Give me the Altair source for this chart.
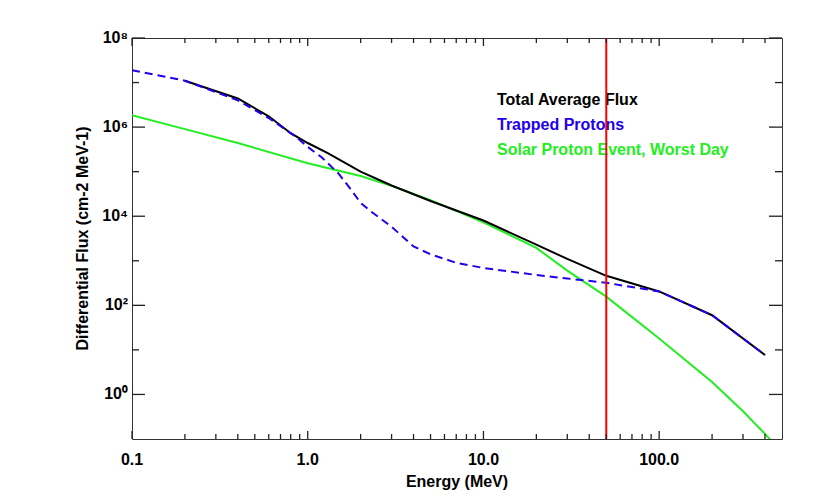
import math
import altair as alt
import pandas as pd

# ---- data ----
energy_total = [0.2, 0.4, 0.6, 0.8, 1.0, 1.3, 2.0, 3.0, 5.0, 10.0, 20.0, 30.0, 50.0, 100.0, 200.0, 400.0]
flux_total = [1.1e7, 4.4e6, 1.75e6, 7.3e5, 4.4e5, 2.6e5, 1.0e5, 4.9e4, 2.2e4, 8.0e3, 2.3e3, 1.1e3, 460, 205, 60, 7.7]

energy_trapped = [0.1, 0.2, 0.4, 0.6, 0.86, 1.0, 1.2, 1.5, 1.75, 2.0, 2.25, 3.0, 4.0, 5.0, 7.0, 10.0,
                  20.0, 30.0, 50.0, 100.0, 200.0, 400.0]
flux_trapped = [1.9e7, 1.1e7, 4.0e6, 1.6e6, 6.0e5, 3.6e5, 2.1e5, 9.0e4, 4.1e4, 2.0e4, 1.35e4, 5.8e3, 2.1e3,
                1.4e3, 900, 690, 480, 400, 320, 205, 60, 7.7]

energy_solar = [0.1, 0.2, 0.4, 1.0, 2.0, 3.0, 5.0, 10.0, 20.0, 30.0, 50.0, 100.0, 200.0, 300.0, 400.0, 500.0]
flux_solar = [1.85e6, 9.0e5, 4.4e5, 1.55e5, 8.0e4, 4.8e4, 2.3e4, 7.3e3, 1.95e3, 600, 157, 18, 1.9, 0.42, 0.13, 0.05]

cutoff_energy = [50.0]

legend_labels = ["Total Average Flux", "Trapped Protons", "Solar Proton Event, Worst Day"]
legend_colors = ["#000000", "#2200ee", "#22ee22"]

x_major = [0.1, 1, 10, 100]
x_major_labels = ["0.1", "1.0", "10.0", "100.0"]
x_minor = [0.2, 0.3, 0.4, 0.5, 0.6, 0.7, 0.8, 0.9, 2, 3, 4, 5, 6, 7, 8, 9,
           20, 30, 40, 50, 60, 70, 80, 90, 200, 300, 400]
y_major = [1, 1e2, 1e4, 1e6, 1e8]
y_major_labels = ["10⁰", "10²", "10⁴", "10⁶", "10⁸"]
y_minor = [10, 1e3, 1e5, 1e7]

x_title = "Energy (MeV)"
y_title = "Differential Flux (cm-2 MeV-1)"

x_domain = [0.1, 500]
y_domain = [0.1, 1e8]

W, H = 650, 401

df_total = pd.DataFrame({"E": energy_total, "F": flux_total})
df_trapped = pd.DataFrame({"E": energy_trapped, "F": flux_trapped})
df_solar = pd.DataFrame({"E": energy_solar, "F": flux_solar})
df_cut = pd.DataFrame({"E": cutoff_energy})

FONT = "Liberation Sans"
TICK = "#222222"

xs = alt.Scale(type="log", domain=x_domain, nice=False)
ys = alt.Scale(type="log", domain=y_domain, nice=False)


def X(field):
    return alt.X(field, type="quantitative", scale=xs, axis=None)


def Y(field):
    return alt.Y(field, type="quantitative", scale=ys, axis=None)


solar = alt.Chart(df_solar).mark_line(color=legend_colors[2], strokeWidth=2, clip=True).encode(
    x=X("E"), y=Y("F"))
total = alt.Chart(df_total).mark_line(color=legend_colors[0], strokeWidth=2, clip=True).encode(
    x=X("E"), y=Y("F"))
trapped = alt.Chart(df_trapped).mark_line(color=legend_colors[1], strokeWidth=2, strokeDash=[8, 5], clip=True).encode(
    x=X("E"), y=Y("F"))

# ---- inward tick marks on all four sides, built from the tick value lists ----
px_per_dec_x = W / (math.log10(x_domain[1]) - math.log10(x_domain[0]))
px_per_dec_y = H / (math.log10(y_domain[1]) - math.log10(y_domain[0]))


def fx(px):
    return 10 ** (px / px_per_dec_x)


def fy(px):
    return 10 ** (px / px_per_dec_y)


rows = []
for vals, length in ((x_major, 8), (x_minor, 5)):
    for v in vals:
        rows.append({"E": v, "F": y_domain[0], "E2": v, "F2": y_domain[0] * fy(length)})
        rows.append({"E": v, "F": y_domain[1], "E2": v, "F2": y_domain[1] / fy(length)})
for vals, length in ((y_major, 13), (y_minor, 7)):
    for v in vals:
        rows.append({"E": x_domain[0], "F": v, "E2": x_domain[0] * fx(length), "F2": v})
        rows.append({"E": x_domain[1], "F": v, "E2": x_domain[1] / fx(length), "F2": v})
df_ticks = pd.DataFrame(rows)

ticks = alt.Chart(df_ticks).mark_rule(color=TICK, strokeWidth=1.3).encode(
    x=X("E"), y=Y("F"), x2="E2:Q", y2="F2:Q")

TXT = dict(font=FONT, fontSize=16, fontWeight="bold", color="black")

x_labels = alt.Chart(pd.DataFrame({"v": x_major, "t": x_major_labels})).mark_text(
    align="center", baseline="top", **TXT
).encode(x=X("v"), y=alt.value(H + 13), text="t:N")

y_labels = alt.Chart(pd.DataFrame({"v": y_major, "t": y_major_labels})).mark_text(
    align="right", baseline="middle", **TXT
).encode(y=Y("v"), x=alt.value(-4), text="t:N")

x_title_mark = alt.Chart(pd.DataFrame({"t": [x_title]})).mark_text(
    align="center", baseline="top", **TXT
).encode(x=alt.value(W / 2), y=alt.value(H + 35), text="t:N")

y_title_mark = alt.Chart(pd.DataFrame({"t": [y_title]})).mark_text(
    align="center", baseline="bottom", angle=270, **TXT
).encode(x=alt.value(-41), y=alt.value(H / 2), text="t:N")

texts = []
for i, (lab, col) in enumerate(zip(legend_labels, legend_colors)):
    texts.append(
        alt.Chart(pd.DataFrame({"label": [lab]})).mark_text(
            align="left", baseline="alphabetic", font=FONT, fontSize=16, fontWeight="bold", color=col
        ).encode(text="label:N", x=alt.value(365), y=alt.value(67 + 25 * i))
    )

cut = alt.Chart(df_cut).mark_rule(color="#ff0000", strokeWidth=2).encode(x=X("E"))

chart = alt.layer(
    solar, total, trapped, x_labels, y_labels, x_title_mark, y_title_mark, *texts, cut, ticks
).properties(
    width=W, height=H,
    autosize=alt.AutoSizeParams(type="none"),
    padding={"left": 124, "top": 30, "right": 27, "bottom": 56},
    background="white",
).configure_view(stroke="#333333", strokeWidth=1)

chart.save("out.html", embed_options={"renderer": "svg", "actions": False})
